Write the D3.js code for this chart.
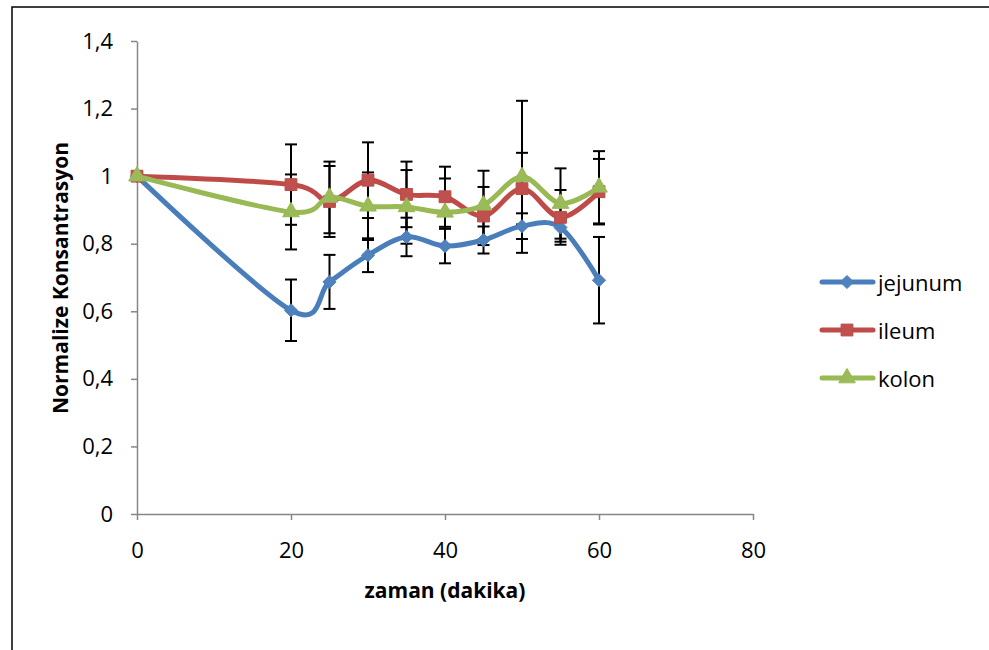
<!DOCTYPE html>
<html>
<head>
<meta charset="utf-8">
<script src="https://cdn.jsdelivr.net/npm/d3@7"></script>
<style>
  html, body { margin: 0; padding: 0; background: #ffffff; }
  svg { display: block; }
  text { font-family: "Open Sans", "Noto Sans", sans-serif; fill: #000; }
</style>
</head>
<body>
<svg id="chart" width="989" height="650"></svg>
<script>
// Sampling times (minutes)
const times = [0, 20, 25, 30, 35, 40, 45, 50, 55, 60];

// Normalised concentration per segment, with error (±)
const jejunum    = [1, 0.603, 0.687, 0.766, 0.820, 0.793, 0.811, 0.852, 0.848, 0.692];
const jejunumErr = [0, 0.091, 0.080, 0.050, 0.057, 0.051, 0.040, 0.038, 0.042, 0.128];
const ileum      = [1, 0.975, 0.925, 0.988, 0.946, 0.939, 0.882, 0.963, 0.878, 0.954];
const ileumErr   = [0, 0.119, 0.105, 0.112, 0.097, 0.089, 0.086, 0.106, 0.081, 0.097];
const kolon      = [1, 0.894, 0.937, 0.911, 0.909, 0.893, 0.914, 0.998, 0.919, 0.967];
const kolonErr   = [0, 0.111, 0.106, 0.100, 0.109, 0.100, 0.102, 0.225, 0.104, 0.107];

const seriesNames = ["jejunum", "ileum", "kolon"];
const xTicks = [0, 20, 40, 60, 80];
const yTicks = [0, 0.2, 0.4, 0.6, 0.8, 1, 1.2, 1.4];

const xTitle = "zaman (dakika)";
const yTitle = "Normalize Konsantrasyon";

const series = [
  { name: seriesNames[0], values: jejunum, err: jejunumErr, line: "#4A7EBB", fill: "#4F81BD", marker: "diamond" },
  { name: seriesNames[1], values: ileum,   err: ileumErr,   line: "#BE4B48", fill: "#C0504D", marker: "square" },
  { name: seriesNames[2], values: kolon,   err: kolonErr,   line: "#98B954", fill: "#9BBB59", marker: "triangle" }
];

const svg = d3.select("#chart");

// outer frame
svg.append("rect")
  .attr("x", 12).attr("y", 7)
  .attr("width", 1000).attr("height", 700)
  .attr("fill", "none").attr("stroke", "#000").attr("stroke-width", 1.5);

const x = d3.scaleLinear().domain([0, 80]).range([137, 753]);
const y = d3.scaleLinear().domain([0, 1.4]).range([514, 41]);

const fmt = d => String(+d.toFixed(1)).replace(".", ",");

// axes
const yAxis = svg.append("g")
  .attr("transform", `translate(${x(0)},0)`)
  .call(d3.axisLeft(y).tickValues(yTicks).tickFormat(fmt).tickSize(6).tickPadding(18).tickSizeOuter(0));
const xAxis = svg.append("g")
  .attr("transform", `translate(0,${y(0)})`)
  .call(d3.axisBottom(x).tickValues(xTicks).tickFormat(fmt).tickSize(6).tickPadding(22).tickSizeOuter(0));

[yAxis, xAxis].forEach(g => {
  g.select(".domain").attr("stroke", "#868686").attr("stroke-width", 1.5);
  g.selectAll(".tick line").attr("stroke", "#868686").attr("stroke-width", 1.5);
  g.selectAll(".tick text").attr("font-size", 22).attr("font-family", "'Open Sans', sans-serif").attr("fill", "#000");
});

// axis titles
svg.append("text")
  .attr("x", 445).attr("y", 590)
  .attr("text-anchor", "middle").attr("dominant-baseline", "central")
  .attr("font-size", 21).attr("font-weight", "bold")
  .text(xTitle);
svg.append("text")
  .attr("transform", "translate(60,278) rotate(-90)")
  .attr("text-anchor", "middle").attr("dominant-baseline", "central")
  .attr("font-size", 21).attr("font-weight", "bold")
  .text(yTitle);

// marker shapes
function markerPath(kind) {
  if (kind === "diamond") return d3.symbol().type(d3.symbolDiamond2).size(110)();
  if (kind === "square") return d3.symbol().type(d3.symbolSquare).size(140)();
  return d3.symbol().type(d3.symbolTriangle).size(120)();
}

const line = d3.line()
  .x(d => x(d.t))
  .y(d => y(d.v))
  .curve(d3.curveCardinal.tension(0));

const capHalf = 6;

// error bars
series.forEach(s => {
  const pts = times.map((t, i) => ({ t, v: s.values[i], e: s.err[i] })).filter(p => p.e > 0);
  const g = svg.append("g").attr("stroke", "#000").attr("stroke-width", 2).attr("fill", "none");
  pts.forEach(p => {
    const cx = x(p.t), top = y(p.v + p.e), bot = y(p.v - p.e);
    g.append("line").attr("x1", cx).attr("x2", cx).attr("y1", top).attr("y2", bot);
    g.append("line").attr("x1", cx - capHalf).attr("x2", cx + capHalf).attr("y1", top).attr("y2", top);
    g.append("line").attr("x1", cx - capHalf).attr("x2", cx + capHalf).attr("y1", bot).attr("y2", bot);
  });
});

// series lines and markers
series.forEach(s => {
  const pts = times.map((t, i) => ({ t, v: s.values[i] }));
  svg.append("path")
    .datum(pts)
    .attr("d", line)
    .attr("fill", "none")
    .attr("stroke", s.line)
    .attr("stroke-width", 5)
    .attr("stroke-linejoin", "round")
    .attr("stroke-linecap", "round");
  svg.append("g").selectAll("path")
    .data(pts)
    .join("path")
    .attr("transform", d => `translate(${x(d.t)},${y(d.v)})`)
    .attr("d", markerPath(s.marker))
    .attr("fill", s.fill)
    .attr("stroke", s.line)
    .attr("stroke-width", 1);
});

// legend
const legendY = [282, 330, 378];
const lg = svg.append("g");
series.forEach((s, i) => {
  const row = lg.append("g").attr("transform", `translate(0,${legendY[i]})`);
  row.append("line")
    .attr("x1", 822).attr("x2", 873).attr("y1", 0).attr("y2", 0)
    .attr("stroke", s.line).attr("stroke-width", 5).attr("stroke-linecap", "round");
  row.append("path")
    .attr("transform", "translate(847,0)")
    .attr("d", markerPath(s.marker))
    .attr("fill", s.fill).attr("stroke", s.line).attr("stroke-width", 1);
  row.append("text")
    .attr("x", 878).attr("y", 0)
    .attr("dominant-baseline", "central")
    .attr("font-size", 22)
    .text(s.name);
});
</script>
</body>
</html>
